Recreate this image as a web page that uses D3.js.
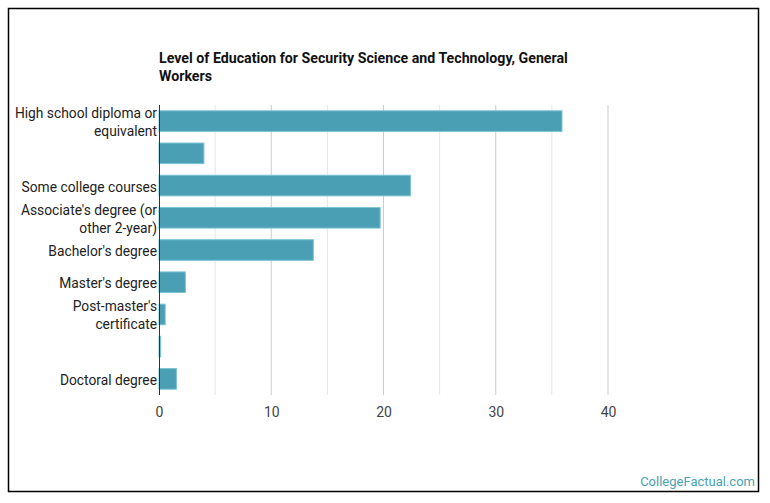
<!DOCTYPE html>
<html>
<head>
<meta charset="utf-8">
<script src="https://cdn.jsdelivr.net/npm/d3@7"></script>
<style>
  body { margin: 0; background: #fff; }
  text { font-family: Roboto, "Open Sans", sans-serif; }
</style>
</head>
<body>
<svg id="chart" width="770" height="503"></svg>
<script>
// chart data
const categories = [
    ["High school diploma or", "equivalent"],
    [""],
    ["Some college courses"],
    ["Associate's degree (or", "other 2-year)"],
    ["Bachelor's degree"],
    ["Master's degree"],
    ["Post-master's", "certificate"],
    [""],
    ["Doctoral degree"]
];
const values = [35.9, 4.0, 22.4, 19.7, 13.75, 2.35, 0.55, 0.15, 1.55];
const xTicks = [0, 10, 20, 30, 40];
const gridTicks = [0, 5, 10, 15, 20, 25, 30, 35, 40];
const titleLines = ["Level of Education for Security Science and Technology, General", "Workers"];

const svg = d3.select("#chart");

// frame
svg.append("rect")
    .attr("x", 8.5).attr("y", 8.5)
    .attr("width", 750).attr("height", 483)
    .attr("fill", "#fff")
    .attr("stroke", "#000")
    .attr("stroke-width", 1.5);

const plot = {left: 159, top: 105, width: 449, height: 290};

const x = d3.scaleLinear()
    .domain([0, 40])
    .range([plot.left, plot.left + plot.width]);

const y = d3.scaleBand()
    .domain(d3.range(categories.length))
    .range([plot.top, plot.top + plot.height])
    .paddingInner(0.36)
    .paddingOuter(0.18);

// title
svg.append("text")
    .attr("x", plot.left)
    .attr("y", 63)
    .attr("font-size", 14.2)
    .attr("font-weight", "bold")
    .attr("fill", "#111")
    .selectAll("tspan")
    .data(titleLines)
    .join("tspan")
    .attr("x", plot.left)
    .attr("dy", (d, i) => i === 0 ? 0 : 18)
    .text(d => d);

// gridlines
svg.append("g")
    .selectAll("line")
    .data(gridTicks.filter(d => d > 0))
    .join("line")
    .attr("x1", d => x(d)).attr("x2", d => x(d))
    .attr("y1", plot.top).attr("y2", plot.top + plot.height)
    .attr("stroke", d => d % 10 === 0 ? "#cccccc" : "#e6e6e6")
    .attr("stroke-width", 1);

// bars
svg.append("g")
    .selectAll("rect")
    .data(values)
    .join("rect")
    .attr("x", x(0))
    .attr("y", (d, i) => y(i))
    .attr("width", d => x(d) - x(0))
    .attr("height", y.bandwidth())
    .attr("fill", "#4a9fb5")
    .attr("stroke", "#7cc3d3")
    .attr("stroke-width", 1);

// y axis line
svg.append("line")
    .attr("x1", x(0) + 0.5).attr("x2", x(0) + 0.5)
    .attr("y1", plot.top).attr("y2", plot.top + plot.height)
    .attr("stroke", "#333")
    .attr("stroke-width", 1);

// category labels
svg.append("g")
    .selectAll("text")
    .data(categories)
    .join("text")
    .attr("text-anchor", "end")
    .attr("font-size", 13.8)
    .attr("fill", "#222")
    .attr("y", (d, i) => y(i) + y.bandwidth() / 2 + 6 - (d.length - 1) * 9)
    .each(function (d) {
        d3.select(this).selectAll("tspan")
            .data(d)
            .join("tspan")
            .attr("x", plot.left - 2)
            .attr("dy", (t, j) => j === 0 ? 0 : 18)
            .text(t => t);
    });

// x tick labels
const xAxis = d3.axisBottom(x)
    .tickValues(xTicks)
    .tickSize(0)
    .tickPadding(12);

svg.append("g")
    .attr("transform", `translate(0,${plot.top + plot.height})`)
    .call(xAxis)
    .call(g => g.select(".domain").remove())
    .call(g => g.selectAll("text")
        .attr("font-family", "Roboto, sans-serif")
        .attr("font-size", 14)
        .attr("fill", "#444"));

// footer
svg.append("text")
    .attr("x", 755)
    .attr("y", 486)
    .attr("text-anchor", "end")
    .attr("font-size", 13)
    .attr("fill", "#4a9fb5")
    .text("CollegeFactual.com");
</script>
</body>
</html>
